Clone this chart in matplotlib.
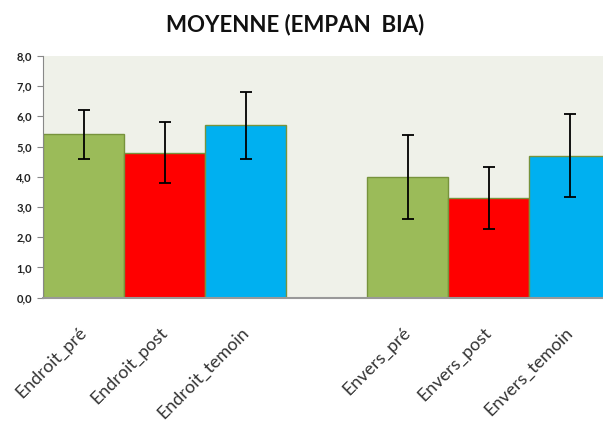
import matplotlib
matplotlib.use('Agg')
import matplotlib.pyplot as plt
import matplotlib.transforms as mtransforms
import numpy as np

# DATA

labels = ['Endroit_pré', 'Endroit_post', 'Endroit_temoin', 'Envers_pré', 'Envers_post', 'Envers_temoin']
positions = [0, 1, 2, 4, 5, 6]
means = [5.4, 4.8, 5.7, 4.0, 3.3, 4.7]
errors = [0.8, 1.0, 1.12, 1.38, 1.02, 1.38]
colors = ['#9BBB59', '#FF0000', '#00B0F0', '#9BBB59', '#FF0000', '#00B0F0']
yticks = np.arange(0, 8.1, 1.0)

plt.rcParams['font.family'] = ['Lato', 'DejaVu Sans']

fig = plt.figure(figsize=(6.03, 4.25), dpi=100)
ax = fig.add_axes([43 / 603, 0.2995, 567 / 603, 0.569])
ax.set_facecolor('#EFF1E9')

ax.bar(positions, means, width=1.0, color=colors, edgecolor='#77933C', linewidth=1.0,
       yerr=errors, error_kw=dict(ecolor='black', elinewidth=1.3, capsize=4, capthick=1.3))

ax.set_xlim(-0.5, 6.5)
ax.set_ylim(0, 8)
ax.set_yticks(yticks)
ax.set_yticklabels([f'{v:.1f}'.replace('.', ',') for v in yticks], fontsize=8, fontweight='bold', color='#222222')
ax.set_xticks(positions)
ax.set_xticklabels(labels, rotation=45, ha='right', rotation_mode='anchor', fontsize=13, color='#333333')
ax.tick_params(axis='x', length=0, pad=19)
ax.tick_params(axis='y', length=4, color='#888888', pad=4)

# labels sit a little left of the default anchor
shift = mtransforms.ScaledTranslation(-5 / 100, 0, fig.dpi_scale_trans)
for lab in ax.get_xticklabels():
    lab.set_transform(lab.get_transform() + shift)

for s in ['top', 'right']:
    ax.spines[s].set_visible(False)
ax.spines['left'].set_color('#888888')
ax.spines['bottom'].set_color('#999999')
ax.spines['bottom'].set_linewidth(1.5)

fig.text(295 / 603, 1 - 25 / 425, 'MOYENNE (EMPAN  BIA)', ha='center', va='center',
         fontsize=16, fontweight='bold', color='#111111')

fig.savefig('out.png', dpi=100)
